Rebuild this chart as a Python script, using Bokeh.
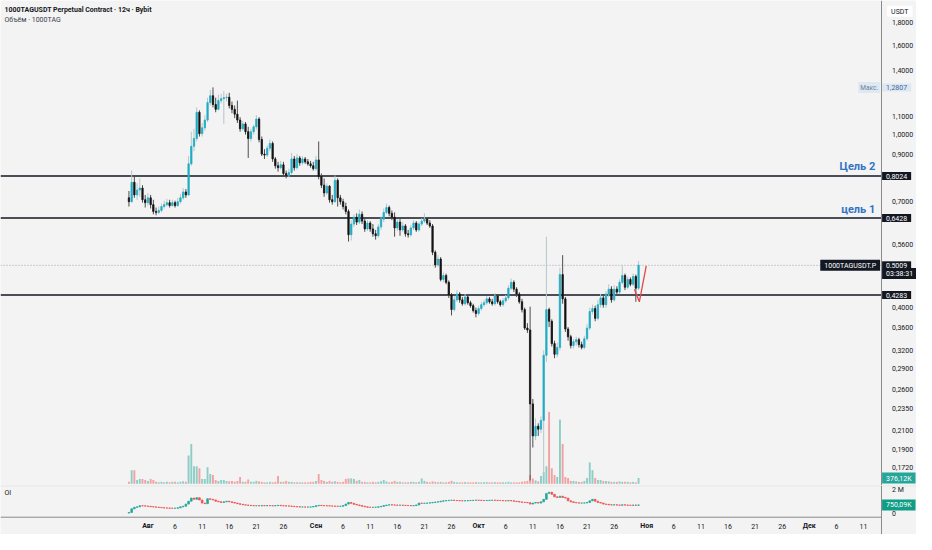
import pandas as pd
from bokeh.plotting import figure
from bokeh.models import Range1d, LinearScale, FixedTicker, CustomJSTickFormatter, Label, ColumnDataSource
from bokeh.layouts import column
from bokeh.embed import file_html
from bokeh.resources import INLINE
from bokeh.core.properties import value

# ---------------- data (12h candles, 1000TAGUSDT) ----------------
first_candle = "2025-07-28 12:00"
first_open = 0.7151
close = [0.7007, 0.7763, 0.7262, 0.7451, 0.7528, 0.7079, 0.6971, 0.7151, 0.6899, 0.6656,
         0.6622, 0.6690, 0.6829, 0.6899, 0.6971, 0.6864, 0.6971, 0.6864, 0.7007, 0.7151,
         0.7375, 0.7262, 0.8557, 0.9386, 0.9779, 1.1232, 1.0033, 1.0346, 1.0779, 1.1823,
         1.2254, 1.1702, 1.1406, 1.1944, 1.2067, 1.2129, 1.2160, 1.1642, 1.1406, 1.1117,
         1.0779, 1.0293, 1.0561, 1.0136, 0.9779, 1.0136, 1.0399, 1.0835, 0.9729, 0.9007,
         0.8961, 0.9290, 0.9531, 0.8779, 0.8470, 0.8383, 0.8513, 0.8130, 0.8047, 0.8171,
         0.8779, 0.8383, 0.8825, 0.8601, 0.8779, 0.8645, 0.8557, 0.8470, 0.8341, 0.8734,
         0.8006, 0.7644, 0.7337, 0.7605, 0.7079, 0.7007, 0.7843, 0.7151, 0.7007, 0.6829,
         0.6656, 0.5885, 0.6227, 0.6455, 0.6291, 0.6555, 0.6324, 0.6069, 0.6259, 0.6069,
         0.5915, 0.5855, 0.6132, 0.6389, 0.6622, 0.6794, 0.6588, 0.6455, 0.6101, 0.6291,
         0.6038, 0.6164, 0.5915, 0.5885, 0.6101, 0.6259, 0.6038, 0.6227, 0.6324, 0.6389,
         0.6259, 0.6164, 0.5367, 0.5020, 0.5178, 0.4649, 0.4746, 0.4578, 0.4283, 0.3965,
         0.4174, 0.4305, 0.4174, 0.4090, 0.4239, 0.4111, 0.4048, 0.3945, 0.3885, 0.3986,
         0.4069, 0.4111, 0.4196, 0.4132, 0.4090, 0.4261, 0.4132, 0.4069, 0.4153, 0.4217,
         0.4439, 0.4578, 0.4417, 0.4305, 0.4132, 0.3965, 0.3597, 0.3561, 0.2411, 0.2036,
         0.2143, 0.2110, 0.2210, 0.3116, 0.3965, 0.3729, 0.3314, 0.3132, 0.3247, 0.4770,
         0.4196, 0.3579, 0.3435, 0.3280, 0.3348, 0.3383, 0.3297, 0.3247, 0.3400, 0.3597,
         0.3925, 0.3986, 0.3787, 0.4069, 0.4217, 0.4069, 0.4305, 0.4417, 0.4174, 0.4417,
         0.4349, 0.4578, 0.4746, 0.4462, 0.4649, 0.4532, 0.4721, 0.4439, 0.5009]
high = [0.7413, 0.8256, 0.8047, 0.7723, 0.7924, 0.7644, 0.7262, 0.7337, 0.7262, 0.7079,
        0.6794, 0.6829, 0.6935, 0.7043, 0.7115, 0.7079, 0.7079, 0.7043, 0.7151, 0.7300,
        0.7528, 0.7489, 0.8916, 1.0136, 1.0293, 1.1523, 1.1347, 1.0615, 1.1060, 1.2129,
        1.2637, 1.2807, 1.2129, 1.2318, 1.2381, 1.2572, 1.2381, 1.2445, 1.1883, 1.1642,
        1.1944, 1.0946, 1.0724, 1.0670, 1.0399, 1.0293, 1.0507, 1.1060, 1.0946, 0.9880,
        0.9242, 0.9434, 0.9729, 0.9629, 0.8870, 0.8645, 0.8689, 0.8645, 0.8256, 0.8341,
        0.9054, 0.8916, 0.9007, 0.8916, 0.8916, 0.8870, 0.8779, 0.8689, 0.8645, 0.8916,
        0.9629, 0.8130, 0.7924, 0.7723, 0.7644, 0.7262, 0.8047, 0.7924, 0.7262, 0.7115,
        0.6971, 0.6725, 0.6356, 0.6555, 0.6588, 0.6725, 0.6656, 0.6422, 0.6356, 0.6324,
        0.6227, 0.6038, 0.6227, 0.6488, 0.6759, 0.6935, 0.6864, 0.6690, 0.6622, 0.6389,
        0.6422, 0.6291, 0.6227, 0.6038, 0.6195, 0.6356, 0.6324, 0.6291, 0.6422, 0.6588,
        0.6455, 0.6356, 0.6227, 0.5420, 0.5285, 0.5231, 0.4819, 0.4795, 0.4626, 0.4327,
        0.4261, 0.4394, 0.4349, 0.4239, 0.4305, 0.4283, 0.4153, 0.4090, 0.4006, 0.4048,
        0.4132, 0.4174, 0.4261, 0.4239, 0.4196, 0.4327, 0.4305, 0.4174, 0.4217, 0.4283,
        0.4508, 0.4673, 0.4626, 0.4462, 0.4349, 0.4196, 0.4006, 0.3691, 0.4027, 0.2474,
        0.2233, 0.2176, 0.2256, 0.3197, 0.5825, 0.4006, 0.3767, 0.3365, 0.3331, 0.4944,
        0.5285, 0.4239, 0.3616, 0.3471, 0.3400, 0.3435, 0.3418, 0.3348, 0.3453, 0.3672,
        0.4006, 0.4069, 0.4048, 0.4174, 0.4305, 0.4283, 0.4372, 0.4532, 0.4485, 0.4508,
        0.4485, 0.4649, 0.5020, 0.4795, 0.4721, 0.4697, 0.4795, 0.4770, 0.5125]
low = [0.6829, 0.6971, 0.7151, 0.7079, 0.7188, 0.6971, 0.6794, 0.6864, 0.6759, 0.6555,
       0.6521, 0.6555, 0.6622, 0.6759, 0.6829, 0.6794, 0.6829, 0.6794, 0.6829, 0.6935,
       0.7079, 0.7151, 0.7225, 0.8470, 0.9147, 0.9629, 0.9880, 0.9880, 1.0188, 1.0670,
       1.1642, 1.1523, 1.1232, 1.1347, 1.1762, 1.0561, 1.1883, 1.1464, 1.1174, 1.0890,
       1.0615, 1.0136, 1.0188, 0.9981, 0.8825, 0.9629, 0.9981, 1.0240, 0.9580, 0.8916,
       0.8779, 0.8870, 0.9147, 0.8645, 0.8341, 0.8213, 0.8298, 0.8006, 0.7924, 0.7965,
       0.8088, 0.8256, 0.8298, 0.8470, 0.8513, 0.8557, 0.8470, 0.8383, 0.8256, 0.8256,
       0.7884, 0.7528, 0.7188, 0.7262, 0.6971, 0.6899, 0.6971, 0.6829, 0.6899, 0.6725,
       0.6555, 0.5678, 0.5707, 0.6132, 0.6195, 0.6227, 0.6227, 0.5977, 0.6008, 0.5977,
       0.5825, 0.5736, 0.5795, 0.6038, 0.6291, 0.6555, 0.6488, 0.6356, 0.5825, 0.6008,
       0.5855, 0.5977, 0.5825, 0.5795, 0.5825, 0.6038, 0.5977, 0.5977, 0.6164, 0.6259,
       0.6195, 0.6101, 0.5285, 0.4944, 0.4969, 0.4602, 0.4578, 0.4532, 0.4217, 0.3845,
       0.3925, 0.4132, 0.4111, 0.4048, 0.4048, 0.4069, 0.4006, 0.3905, 0.3806, 0.3845,
       0.3945, 0.4027, 0.4069, 0.4090, 0.4048, 0.4048, 0.4090, 0.4027, 0.4027, 0.4111,
       0.4174, 0.4394, 0.4349, 0.4239, 0.4090, 0.3905, 0.3561, 0.3506, 0.1609, 0.1915,
       0.1995, 0.2036, 0.2067, 0.1642, 0.3006, 0.3616, 0.3263, 0.3068, 0.3084, 0.3197,
       0.4090, 0.3524, 0.3365, 0.3230, 0.3230, 0.3280, 0.3247, 0.3214, 0.3214, 0.3365,
       0.3561, 0.3865, 0.3729, 0.3748, 0.4006, 0.4006, 0.4006, 0.4239, 0.4111, 0.4132,
       0.4283, 0.4305, 0.4532, 0.4394, 0.4417, 0.4485, 0.4485, 0.4132, 0.4394]
volume_k = [126, 882, 882, 252, 315, 315, 252, 189, 315, 252,
            126, 95, 126, 95, 126, 95, 126, 126, 95, 126,
            158, 126, 1827, 2583, 1134, 1134, 1008, 315, 315, 1071,
            630, 567, 252, 189, 252, 252, 189, 158, 189, 126,
            189, 441, 126, 126, 284, 126, 126, 189, 158, 126,
            95, 95, 126, 95, 126, 504, 126, 126, 189, 126,
            126, 95, 95, 95, 95, 95, 95, 126, 126, 189,
            630, 252, 189, 126, 189, 126, 158, 126, 95, 126,
            315, 347, 347, 315, 189, 252, 126, 126, 95, 95,
            126, 95, 126, 158, 252, 158, 95, 126, 189, 126,
            126, 95, 95, 95, 126, 126, 95, 126, 347, 189,
            126, 95, 158, 126, 95, 126, 95, 95, 126, 189,
            126, 95, 95, 95, 110, 95, 95, 95, 110, 95,
            95, 95, 110, 95, 95, 110, 95, 95, 95, 95,
            126, 95, 95, 95, 95, 126, 158, 189, 567, 347,
            221, 158, 504, 756, 1134, 4662, 1008, 567, 441, 4158,
            2583, 441, 378, 189, 189, 158, 126, 126, 189, 378,
            1386, 882, 378, 252, 252, 189, 189, 158, 126, 126,
            126, 158, 126, 126, 126, 95, 126, 95, 376.12]
oi_first_open = 100
oi_k = [150, 440, 560, 600, 690, 680, 660, 640, 610, 590,
        570, 550, 530, 510, 500, 490, 485, 490, 520, 600,
        650, 820, 1050, 1300, 1200, 1330, 1150, 900, 850, 1250,
        1200, 1150, 1050, 1000, 950, 1000, 1050, 1000, 950, 900,
        850, 800, 760, 740, 720, 700, 690, 690, 680, 700,
        690, 700, 690, 680, 700, 720, 690, 680, 670, 660,
        640, 620, 600, 590, 590, 580, 580, 590, 620, 690,
        720, 700, 690, 680, 670, 660, 650, 640, 650, 700,
        820, 950, 880, 800, 750, 700, 650, 600, 570, 560,
        560, 570, 600, 640, 700, 740, 760, 750, 740, 730,
        730, 720, 710, 700, 690, 700, 750, 900, 880, 890,
        900, 920, 950, 980, 1000, 1050, 1080, 1100, 1120, 1130,
        1110, 1100, 1090, 1080, 1090, 1100, 1110, 1120, 1130, 1120,
        1110, 1100, 1110, 1120, 1130, 1120, 1110, 1100, 1090, 1080,
        1100, 1080, 1050, 1020, 990, 960, 950, 930, 820, 900,
        950, 900, 1000, 1200, 1670, 1770, 1600, 1400, 1350, 1450,
        1350, 1300, 1080, 1000, 950, 920, 900, 900, 910, 950,
        1080, 1200, 1050, 950, 900, 820, 800, 760, 750, 760,
        740, 730, 760, 740, 730, 720, 740, 730, 750.09]

levels = [0.8024, 0.6428, 0.4283]
level_texts = ["0,8024", "0,6428", "0,4283"]
last_price = 0.5009
countdown = "03:38:31"
max_price = 1.2807
target_labels = ["Цель 2", "цель 1"]
target_prices = [0.8427, 0.6725]
target_time = "2025-12-13 04:00"
check_times = ["2025-10-29 17:45", "2025-10-30 15:30", "2025-10-31 22:00"]
check_prices = [0.4417, 0.4132, 0.4995]
price_ticks = [1.8, 1.6, 1.4, 1.1, 1.0, 0.9, 0.7, 0.56, 0.4, 0.36, 0.32, 0.29, 0.26, 0.235, 0.21, 0.19, 0.172]
oi_ticks = [0, 2000]
day_ticks = ["2025-08-06", "2025-08-11", "2025-08-16", "2025-08-21", "2025-08-26",
             "2025-09-06", "2025-09-11", "2025-09-16", "2025-09-21", "2025-09-26",
             "2025-10-06", "2025-10-11", "2025-10-16", "2025-10-21", "2025-10-26",
             "2025-11-06", "2025-11-11", "2025-11-16", "2025-11-21", "2025-11-26",
             "2025-12-06", "2025-12-11"]
month_names = ["Авг", "Сен", "Окт", "Ноя", "Дек"]
month_dates = ["2025-08-01", "2025-09-01", "2025-10-01", "2025-11-01", "2025-12-01"]
title_text = "1000TAGUSDT Perpetual Contract · 12ч · Bybit"
subtitle_text = "Объём · 1000TAG"


def ms(s):
    return (pd.Timestamp(s) - pd.Timestamp("1970-01-01")) / pd.Timedelta(milliseconds=1)


HALF = 12 * 3600 * 1000
times = pd.date_range(first_candle, periods=len(close), freq="12h")
t_ms = [ms(t) for t in times]
opens = [first_open] + close[:-1]
up = [c >= o for o, c in zip(opens, close)]

BG = "#f3f3f3"
FONT = "Roboto"
TXT = "#131722"
UP, DN = "#21acc4", "#141414"
UPW, DNW = "#b3c6c9", "#4e4e4e"
VUP, VDN = "#8ccdc6", "#f2a0a1"
OIUP, OIDN = "#26a69a", "#ef5350"

W, H1, H2 = 916, 485, 49
X0 = ms("2025-07-04 19:20")      # left edge of the chart
XA = ms("2025-12-14 05:45")      # position of the price scale
XE = ms("2025-12-20 18:30")      # right edge (end of price scale area)
xr = Range1d(X0, XE)

src = ColumnDataSource(dict(
    t=t_ms, h=high, l=low,
    bt=[max(o, c) for o, c in zip(opens, close)],
    bb=[min(o, c) for o, c in zip(opens, close)],
    bcol=[UP if u else DN for u in up],
    wcol=[UPW if u else DNW for u in up],
    vol=volume_k,
    vcol=[VUP if u else VDN for u in up],
))

p1 = figure(width=W, height=H1, x_range=xr, y_range=Range1d(0.15674, 2.0255), y_axis_type="log",
            x_axis_location=None, y_axis_location="right", output_backend="svg", toolbar_location=None,
            min_border_left=0, min_border_right=0, min_border_top=0, min_border_bottom=0,
            background_fill_color=BG, border_fill_color=BG, outline_line_color=None)
p1.grid.visible = False
p1.extra_y_ranges = {"vol": Range1d(-110, 31327)}
p1.extra_y_scales = {"vol": LinearScale()}

p1.vbar(x="t", width=HALF * 0.7, bottom=0, top="vol", fill_color="vcol", line_color=None,
        y_range_name="vol", source=src)
p1.segment(x0=[X0], x1=[XA], y0=[last_price], y1=[last_price], line_color="#a0a0a0",
           line_width=1, line_dash="1 2")
p1.segment(x0=[X0] * len(levels), x1=[XA] * len(levels), y0=levels, y1=levels,
           line_color=TXT, line_width=1.5)
p1.segment(x0="t", y0="h", x1="t", y1="l", line_color="wcol", line_width=1, source=src)
p1.vbar(x="t", width=HALF * 0.5, top="bt", bottom="bb", fill_color="bcol", line_color="bcol",
        line_width=0.8, source=src)
p1.line(x=[ms(t) for t in check_times], y=check_prices, line_color="#e4474e", line_width=1.3)
p1.text(x=[ms(target_time)] * len(target_labels), y=target_prices, text=target_labels,
        text_align="right", text_baseline="middle", text_font=value(FONT), text_font_style="bold",
        text_font_size="11px", text_color="#3474c4")

p1.yaxis.fixed_location = XA
p1.yaxis.ticker = FixedTicker(ticks=price_ticks)
p1.yaxis.formatter = CustomJSTickFormatter(code="return tick.toFixed(4).replace('.', ',');")
for ax in [p1.yaxis]:
    ax.major_tick_line_color = None
    ax.minor_tick_line_color = None
    ax.axis_line_color = "#8a8a8a"
    ax.major_label_text_font = FONT
    ax.major_label_text_font_size = "7px"
    ax.major_label_text_color = TXT
    ax.major_label_standoff = 5

PAD = dict(left=4, right=4, top=2, bottom=1)


def tag(fig, y, text, bg, fg, align="left", xoff=1, yr="default", size="7px", pad=PAD):
    fig.add_layout(Label(x=XA, y=y, x_offset=xoff, text=text, text_align=align, text_baseline="middle",
                         text_font=FONT, text_font_size=size, text_color=fg, background_fill_color=bg,
                         padding=pad, y_range_name=yr))


tag(p1, 1.915, "USDT", "#ffffff", TXT, xoff=6)
tag(p1, max_price, "Макс.", "#dde8f3", "#6b7f98", align="right", xoff=-1, size="6.5px",
    pad=dict(left=2, right=2, top=2, bottom=1))
tag(p1, max_price, "1,2807", "#dde8f3", "#3f6796")
for lv, tx in zip(levels, level_texts):
    tag(p1, lv, tx, TXT, "#ffffff")
tag(p1, last_price, "0,5009", TXT, "#ffffff")
tag(p1, 0.4795, countdown, TXT, "#ffffff")
tag(p1, last_price, "1000TAGUSDT.P", TXT, "#ffffff", align="right", xoff=-1)
tag(p1, volume_k[-1], "376,12K", "#26a69a", "#ffffff", yr="vol")

p1.add_layout(Label(x=X0, y=1.9242, x_offset=4, text=title_text, text_align="left", text_baseline="middle",
                    text_font=FONT, text_font_size="7px", text_font_style="bold", text_color=TXT))
p1.add_layout(Label(x=X0, y=1.8281, x_offset=4, text=subtitle_text, text_align="left", text_baseline="middle",
                    text_font=FONT, text_font_size="7px", text_color="#3a3e4a"))

# ---------------- OI pane + time scale ----------------
oi_open = [oi_first_open] + oi_k[:-1]
oi_src = ColumnDataSource(dict(
    t=t_ms,
    top=[max(a, b) for a, b in zip(oi_open, oi_k)],
    bottom=[min(a, b) for a, b in zip(oi_open, oi_k)],
    col=[OIUP if b >= a else OIDN for a, b in zip(oi_open, oi_k)],
))
OI_AXIS_Y = -231
p2 = figure(width=W, height=H2, x_range=xr, y_range=Range1d(-1615, 2308), y_axis_location="right",
            output_backend="svg", toolbar_location=None,
            min_border_left=0, min_border_right=0, min_border_top=0, min_border_bottom=0,
            background_fill_color=BG, border_fill_color=BG, outline_line_color=None)
p2.grid.visible = False
p2.segment(x0=[X0], x1=[XE], y0=[2290], y1=[2290], line_color="#dcdcdc", line_width=1)
p2.segment(x0=[X0], x1=[XA], y0=[OI_AXIS_Y], y1=[OI_AXIS_Y], line_color="#8a8a8a", line_width=1)
p2.vbar(x="t", width=HALF * 0.6, top="top", bottom="bottom", fill_color="col", line_color="col",
        line_width=0.8, source=oi_src)

p2.yaxis.fixed_location = XA
p2.xaxis.fixed_location = OI_AXIS_Y
p2.yaxis.ticker = FixedTicker(ticks=oi_ticks)
p2.yaxis.formatter = CustomJSTickFormatter(code="return tick == 0 ? '0' : (tick / 1000) + ' M';")
p2.xaxis.ticker = FixedTicker(ticks=[ms(d) for d in day_ticks])
p2.xaxis.formatter = CustomJSTickFormatter(code="return String(new Date(tick).getUTCDate());")
for ax in [p2.yaxis, p2.xaxis]:
    ax.major_tick_line_color = None
    ax.minor_tick_line_color = None
    ax.major_label_text_font = FONT
    ax.major_label_text_font_size = "7px"
    ax.major_label_text_color = TXT
p2.yaxis.axis_line_color = "#8a8a8a"
p2.xaxis.axis_line_color = None
p2.yaxis.major_label_standoff = 5
p2.xaxis.major_label_standoff = 1

tag(p2, oi_k[-1], "750,09K", "#0e9d86", "#ffffff")
p2.add_layout(Label(x=X0, y=1692, x_offset=4, text="OI", text_align="left", text_baseline="middle",
                    text_font=FONT, text_font_size="7px", text_color=TXT))
for name, d in zip(month_names, month_dates):
    p2.add_layout(Label(x=ms(d), y=-923, text=name, text_align="center", text_baseline="middle",
                        text_font=FONT, text_font_size="7px", text_font_style="bold", text_color=TXT))

layout = column(p1, p2, spacing=0)
open("out.html", "w").write(file_html(layout, INLINE))
